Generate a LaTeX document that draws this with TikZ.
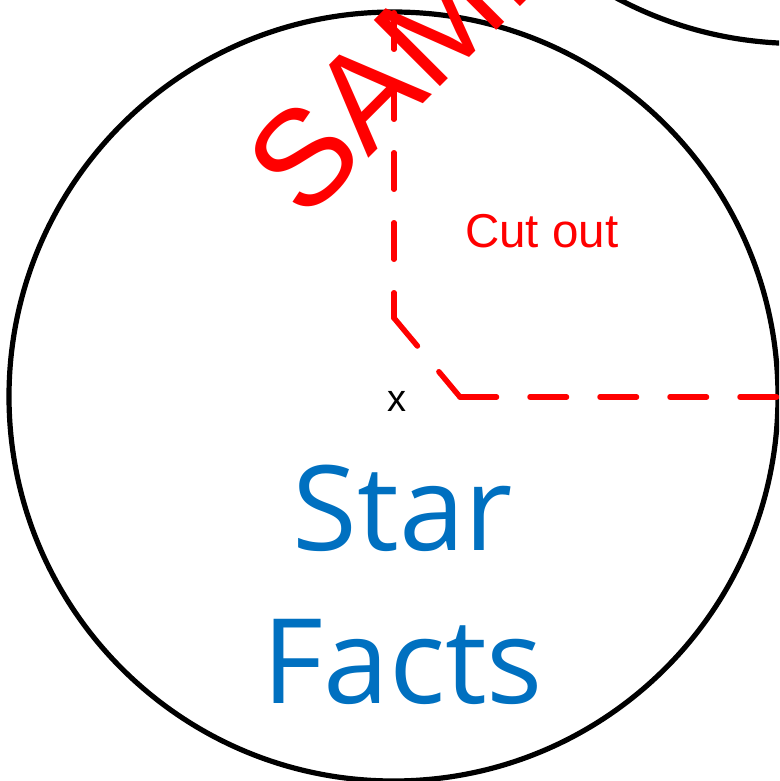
\documentclass[tikz,border=0pt]{standalone}
\usepackage{fontspec}
\setmainfont{Liberation Sans}
\newfontfamily\factsfont{Open Sans}
\usepackage{xcolor}
\definecolor{cutred}{HTML}{FF0000}
\definecolor{factblue}{HTML}{0070C0}
\definecolor{ink}{HTML}{000000}
\tikzset{
  disc/.style      = {draw=ink, line width=5.2pt},
  cutline/.style   = {draw=cutred, line width=5.5pt, line cap=round, line join=round,
                      dash pattern=on 36.5pt off 33.5pt},
  stamp/.style     = {text=cutred, font=\fontsize{136}{136}\selectfont, rotate=45,
                      anchor=base west, inner sep=0pt},
  cutlabel/.style  = {text=cutred, font=\fontsize{47.5}{47.5}\selectfont,
                      anchor=base west, inner sep=0pt},
  centremark/.style= {text=ink, font=\fontsize{38}{38}\selectfont, inner sep=0pt},
  title/.style     = {text=factblue, font=\factsfont\fontsize{118}{153}\selectfont,
                      align=center, inner sep=0pt},
}
\begin{document}
\begin{tikzpicture}[x=1pt, y=-1pt]

  \useasboundingbox (0,0) rectangle (779,781);
  \clip (0,0) rectangle (779,781);

  % Circles
  \coordinate (c)  at (393.5,396.5);
  \coordinate (nb) at (798,-341);
  \draw[disc] (nb) circle[radius=384.5];
  \draw[disc] (c)  circle[radius=384.5];

  % Cut-out line, one dash run per side
  \coordinate (top)  at (394,12);
  \coordinate (bend) at (394,318);
  \coordinate (knee) at (460,397);
  \coordinate (rim)  at (778,397);
  \draw[cutline, dash phase=69.25pt] (top) -- (bend);
  \draw[cutline] (bend) -- (knee);
  \draw[cutline] (knee) -- (rim);

  % Labels
  \node[stamp]      (sample) at (304,223) {SAMPLE};
  \node[cutlabel]   (cut)    at (465,247) {Cut out};
  \node[centremark] (cx)     at (397,401) {x};
  \node[title]      (facts)  at (403,584.5) {Star\\Facts};

\end{tikzpicture}
\end{document}
